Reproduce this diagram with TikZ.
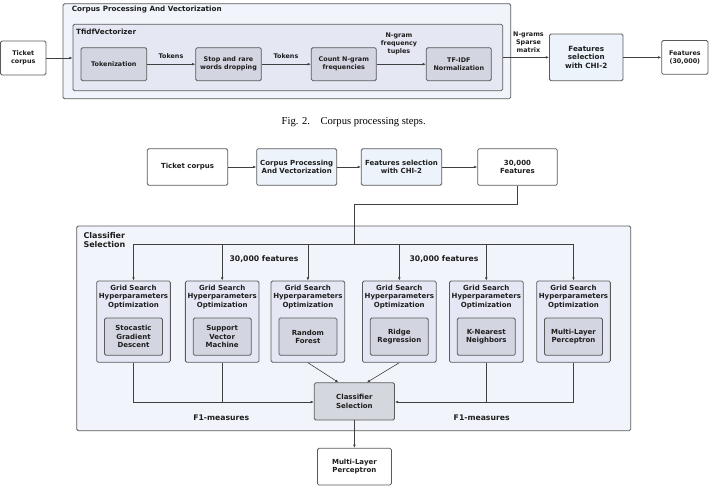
\documentclass[tikz,border=0pt]{standalone}
\usepackage{fontspec}
\setmainfont{DejaVu Sans}
\newfontfamily\capfont{Liberation Serif}
\usetikzlibrary{arrows.meta,calc}
\definecolor{bord}{HTML}{5A5A5A}
\definecolor{conn}{HTML}{404040}
\definecolor{outerfill}{HTML}{F1F5FB}
\definecolor{tfidffill}{HTML}{E5E7F3}
\definecolor{procfill}{HTML}{D3D5E1}
\definecolor{fsfill}{HTML}{EDF3FB}
\definecolor{gridfill}{HTML}{E5E7F4}
\definecolor{csfill}{HTML}{D5D7DE}
\definecolor{txt}{HTML}{1E1E1E}
\tikzset{
  box/.style={draw=bord, line width=0.8pt, rounded corners=1.5pt, inner sep=0pt, align=center, text=txt},
  smallf/.style={font=\bfseries\fontsize{6.4}{7.9}\selectfont},
  midf/.style={font=\bfseries\fontsize{7}{8.3}\selectfont},
  lblf/.style={font=\bfseries\fontsize{7.7}{9}\selectfont, text=txt, inner sep=0pt, align=center},
  ttlf/.style={font=\bfseries\fontsize{7.2}{8.5}\selectfont, text=txt, inner sep=0pt, align=left},
  conn/.style={draw=conn, line width=0.6pt},
  arr/.style={conn, -{Latex[length=3.2pt,width=2.6pt]}},
}
\begin{document}
\begin{tikzpicture}[x=1pt,y=-1pt]
\useasboundingbox (0,0) rectangle (718,493);
% ---------------- Top figure ----------------
\node[box, fill=outerfill, minimum width=447.7, minimum height=95] (cpv) at (286.85,51.2) {};
\node[ttlf, anchor=west] (cpvt) at (71.7,9.5) {Corpus Processing And Vectorization};
\node[box, fill=tfidffill, minimum width=429.7, minimum height=66.4] (tfv) at (287.85,57.5) {};
\node[ttlf, anchor=west] (tfvt) at (76,31.7) {TfidfVectorizer};
\node[box, fill=white, smallf, minimum width=45.5, minimum height=34] (tc1) at (23.25,58) {Ticket\\corpus};
\node[box, fill=procfill, smallf, minimum width=65.7, minimum height=33] (tok) at (113.85,64.2) {Tokenization};
\node[box, fill=procfill, smallf, minimum width=65.6, minimum height=33] (stop) at (228.5,64.2) {Stop and rare\\words dropping};
\node[box, fill=procfill, smallf, minimum width=65, minimum height=33] (cnt) at (343.8,64.2) {Count N-gram\\frequencies};
\node[box, fill=procfill, smallf, minimum width=65, minimum height=33] (tfn) at (458.8,64.2) {TF-IDF\\Normalization};
\node[box, fill=fsfill, font=\bfseries\fontsize{7.2}{8.6}\selectfont, minimum width=73.5, minimum height=46.7] (fs1) at (586.25,57.4) {Features\\selection\\with CHI-2};
\node[box, fill=white, smallf, minimum width=46.3, minimum height=33.8] (ft1) at (684.85,57.4) {Features\\(30,000)};
\draw[arr] (tc1.east) -- (tc1.east -| tfv.west);
\draw[arr] (tok) -- (stop);
\draw[arr] (stop) -- (cnt);
\draw[arr] (cnt) -- (tfn);
\draw[arr] (tfv.east |- fs1.west) -- (fs1.west);
\draw[arr] (fs1) -- (ft1);
\node[lblf, smallf] (l1) at (171,56.5) {Tokens};
\node[lblf, smallf] (l2) at (286,56.5) {Tokens};
\node[lblf, smallf] (l3) at (399,44) {N-gram\\frequency\\tuples};
\node[lblf, smallf] (l4) at (528.5,42) {N-grams\\Sparse\\matrix};
\node[font=\capfont\fontsize{10.6}{12}\selectfont, inner sep=0pt] (cap) at (353.7,122.5) {Fig. 2.\hspace{1em}Corpus processing steps.};
% ---------------- Bottom figure ----------------
\node[box, fill=white, midf, minimum width=80.4, minimum height=36.6] (tc2) at (187.5,167) {Ticket corpus};
\node[box, fill=fsfill, midf, minimum width=80, minimum height=36.6] (cpv2) at (296.7,167) {Corpus Processing\\And Vectorization};
\node[box, fill=fsfill, midf, minimum width=80.4, minimum height=36.6] (fs2) at (401.5,167) {Features selection\\with CHI-2};
\node[box, fill=white, midf, minimum width=79.6, minimum height=36.6] (ft2) at (517.5,167) {30,000\\Features};
\draw[arr] (tc2) -- (cpv2);
\draw[arr] (cpv2) -- (fs2);
\draw[arr] (fs2) -- (ft2);
\node[box, fill=outerfill, minimum width=554, minimum height=204.7] (csc) at (353.7,328.35) {};
\node[ttlf, font=\bfseries\fontsize{8}{9.3}\selectfont, anchor=north west] (csct) at (83.3,232.3) {Classifier\\Selection};
\coordinate (j0) at (354,204.3);
\coordinate (j1) at (354,244);
% grid boxes
\foreach \n/\x/\t in {g1/133.5/{Stocastic\\Gradient\\Descent}, g2/222.2/{Support\\Vector\\Machine}, g3/307.9/{Random\\Forest}, g4/399.3/{Ridge\\Regression}, g5/486.3/{K-Nearest\\Neighbors}, g6/573.5/{Multi-Layer\\Perceptron}}{
  \node[box, fill=gridfill, minimum width=73.7, minimum height=81.3] (\n) at (\x,321.65) {};
  \node[midf, inner sep=0pt, align=center, text=txt] (\n t) at (\x,297) {Grid Search\\Hyperparameters\\Optimization};
  \node[box, fill=procfill, midf, minimum width=58, minimum height=37.3] (\n m) at (\x,336.65) {\t};
}
\coordinate (h1) at (133.5,244);
\coordinate (h6) at (573.5,244);
\draw[conn] (ft2.south) |- (j0) -- (j1);
\draw[conn] (h1) -- (h6);
\foreach \n in {g1,g2,g3,g4,g5,g6}{
  \draw[arr] (h1 -| \n.north) -- (\n.north);
}
\node[lblf] (f1) at (264,258.7) {30,000 features};
\node[lblf] (f2) at (444,258.7) {30,000 features};
\node[box, fill=csfill, midf, minimum width=80.2, minimum height=37.2] (cs) at (354.4,401.4) {Classifier\\Selection};
\node[box, fill=white, midf, minimum width=74, minimum height=36.7] (mlp) at (354.4,466.65) {Multi-Layer\\Perceptron};
\coordinate (jl) at (133.5,402);
\coordinate (jr) at (573.5,402);
\draw[arr] (g1.south) -- (jl) -- (jl -| cs.west);
\draw[conn] (g2.south) -- (g2.south |- jl);
\draw[arr] (g6.south) -- (jr) -- (jr -| cs.east);
\draw[conn] (g5.south) -- (g5.south |- jr);
\draw[arr] (g3.south) -- ($(cs.north)+(-16,0)$);
\draw[arr] (g4.south) -- ($(cs.north)+(12.5,0)$);
\draw[arr] (cs.south) -- (mlp.north);
\node[lblf] (m1) at (221.3,417.5) {F1-measures};
\node[lblf] (m2) at (481.7,417.5) {F1-measures};
\end{tikzpicture}
\end{document}
